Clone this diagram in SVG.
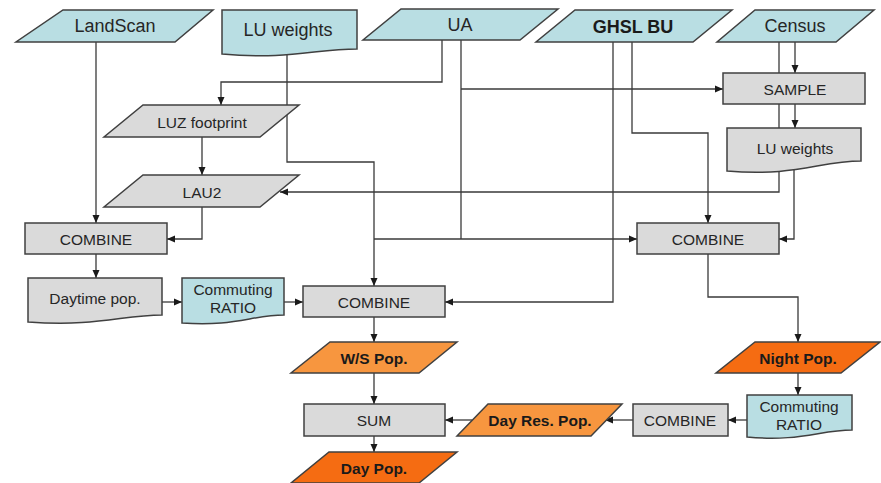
<svg xmlns="http://www.w3.org/2000/svg" width="881" height="483" viewBox="0 0 881 483">
<style>
.c{fill:none;stroke:#3a3a3a;stroke-width:1.3}
.a{marker-end:url(#ah)}
.blue{fill:#b9dee3;stroke:#404040;stroke-width:1.5}
.gray{fill:#dadada;stroke:#404040;stroke-width:1.5}
.or1{fill:#f7963f;stroke:#404040;stroke-width:1.5}
.or2{fill:#f56c12;stroke:#404040;stroke-width:1.5}
text{font-family:"Liberation Sans",Arial,sans-serif;fill:#262626;text-anchor:middle;dominant-baseline:central}
.t18{font-size:18px}
.t15{font-size:15.5px}
.b{font-weight:bold;font-size:15.5px;fill:#1a1a1a}
.b18{font-weight:bold;font-size:18px;fill:#1a1a1a}
</style>
<defs>
<marker id="ah" markerWidth="8" markerHeight="8" refX="8" refY="4" orient="auto" markerUnits="userSpaceOnUse">
<path d="M0,0.5 L8,4 L0,7.5 Z" fill="#1a1a1a"/>
</marker>
</defs>
<g id="connectors">
<polyline class="c a" points="96,42 96,223"/>
<polyline class="c a" points="287,53 287,162 374,162 374,286"/>
<polyline class="c a" points="442,40 442,82 221,82 221,105"/>
<polyline class="c" points="461,40 461,239"/>
<polyline class="c a" points="461,89 723,89"/>
<polyline class="c a" points="374,239 637,239"/>
<polyline class="c a" points="613,42 613,302 445,302"/>
<polyline class="c a" points="632,42 632,133 708,133 708,223"/>
<polyline class="c a" points="795,42 795,73"/>
<polyline class="c a" points="779,42 779,192 280,192"/>
<polyline class="c a" points="795,104 795,128"/>
<polyline class="c a" points="794,168 794,239 779,239"/>
<polyline class="c a" points="202,137 202,175"/>
<polyline class="c a" points="202,207 202,239 167,239"/>
<polyline class="c a" points="96,254 96,278"/>
<polyline class="c a" points="162,302 182,302"/>
<polyline class="c a" points="284,302 303,302"/>
<polyline class="c a" points="374,317 374,342"/>
<polyline class="c a" points="708,254 708,297 798,297 798,342"/>
<polyline class="c a" points="798,373 798,395"/>
<polyline class="c a" points="747,420 728,420"/>
<polyline class="c a" points="633,420 605,420"/>
<polyline class="c a" points="472,420 445,420"/>
<polyline class="c a" points="374,373 374,404"/>
<polyline class="c a" points="374,436 374,452"/>
</g>
<g id="landscan"><polygon class="blue" points="63,10 213,10 175,42 16,42"/><text class="t18" x="115" y="26">LandScan</text></g>
<g id="luweights1"><path class="blue" d="M222,10 H357 V49 C315,49 290,60 222,54 Z"/><text class="t18" x="288" y="30">LU weights</text></g>
<g id="ua"><polygon class="blue" points="401,9 558,9 520,40 363,40"/><text class="t18" x="460" y="25">UA</text></g>
<g id="ghsl"><polygon class="blue" points="575,10 732,10 693,42 536,42"/><text class="b18" x="633" y="27">GHSL BU</text></g>
<g id="census"><polygon class="blue" points="755,10 874,10 836,42 717,42"/><text class="t18" x="795" y="26">Census</text></g>
<g id="sample"><rect class="gray" x="723" y="73" width="142" height="31"/><text class="t15" x="795" y="89">SAMPLE</text></g>
<g id="luweights2"><path class="gray" d="M727,128 H861 V161 C820,161 795,177 727,171 Z"/><text class="t15" x="795" y="148">LU weights</text></g>
<g id="luz"><polygon class="gray" points="143,105 299,105 260,137 104,137"/><text class="t15" x="202" y="122">LUZ footprint</text></g>
<g id="lau2"><polygon class="gray" points="143,175 299,175 260,207 104,207"/><text class="t15" x="202" y="192">LAU2</text></g>
<g id="combine1"><rect class="gray" x="25" y="223" width="142" height="31"/><text class="t15" x="96" y="239">COMBINE</text></g>
<g id="daytime"><path class="gray" d="M28,278 H162 V315 C122,315 98,327 28,322 Z"/><text class="t15" x="95" y="298">Daytime pop.</text></g>
<g id="commuting1"><path class="blue" d="M182,278 H284 V315 C252,315 234,327 182,323 Z"/><text class="t15" x="233" y="289">Commuting</text><text class="t15" x="233" y="307">RATIO</text></g>
<g id="combine2"><rect class="gray" x="303" y="286" width="142" height="31"/><text class="t15" x="374" y="302">COMBINE</text></g>
<g id="combine3"><rect class="gray" x="637" y="223" width="142" height="31"/><text class="t15" x="708" y="239">COMBINE</text></g>
<g id="wspop"><polygon class="or1" points="330,342 457,342 419,373 291,373"/><text class="b" x="374" y="358">W/S Pop.</text></g>
<g id="nightpop"><polygon class="or2" points="755,342 880,342 841,373 716,373"/><text class="b" x="798" y="358">Night Pop.</text></g>
<g id="commuting2"><path class="blue" d="M747,395 H852 V430 C820,430 800,442 747,437 Z"/><text class="t15" x="799" y="406">Commuting</text><text class="t15" x="799" y="424">RATIO</text></g>
<g id="combine4"><rect class="gray" x="633" y="404" width="95" height="32"/><text class="t15" x="680" y="420">COMBINE</text></g>
<g id="dayres"><polygon class="or1" points="488,404 622,404 591,436 457,436"/><text class="b" x="540" y="420">Day Res. Pop.</text></g>
<g id="sum"><rect class="gray" x="304" y="404" width="141" height="32"/><text class="t15" x="374" y="420">SUM</text></g>
<g id="daypop"><polygon class="or2" points="329,452 457,452 419,483 291,483"/><text class="b" x="374" y="468">Day Pop.</text></g>
</svg>
